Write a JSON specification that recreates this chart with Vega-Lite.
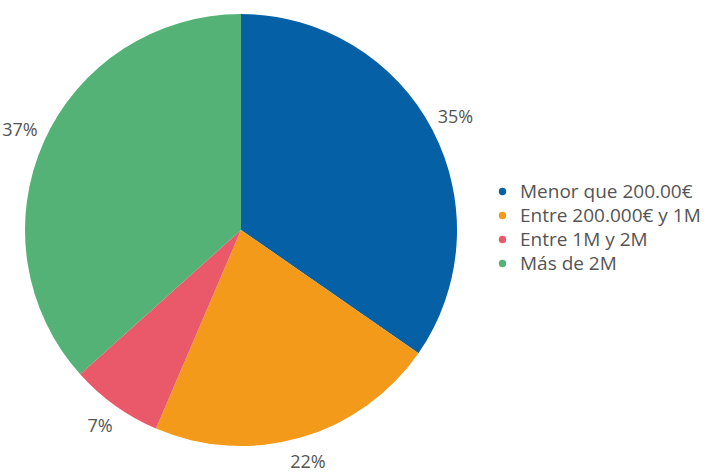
{
  "$schema": "https://vega.github.io/schema/vega-lite/v6.json",
  "width": 482,
  "height": 460,
  "padding": {"left": 0, "top": 0, "right": 230, "bottom": 13},
  "autosize": "none",
  "background": "white",
  "data": {"values": [
    {"cat": "Menor que 200.00€", "value": 35, "label": "35%", "ord": 1},
    {"cat": "Entre 200.000€ y 1M", "value": 22, "label": "22%", "ord": 2},
    {"cat": "Entre 1M y 2M", "value": 7, "label": "7%", "ord": 3},
    {"cat": "Más de 2M", "value": 37, "label": "37%", "ord": 4}
  ]},
  "encoding": {
    "theta": {"field": "value", "type": "quantitative", "stack": true},
    "order": {"field": "ord", "type": "quantitative"},
    "color": {
      "field": "cat", "type": "nominal",
      "scale": {
        "domain": ["Menor que 200.00€", "Entre 200.000€ y 1M", "Entre 1M y 2M", "Más de 2M"],
        "range": ["#0560A6", "#F39A1A", "#E9596A", "#54B276"]
      },
      "legend": {
        "title": null,
        "orient": "none",
        "legendX": 493,
        "legendY": 182,
        "symbolType": "circle",
        "symbolSize": 55,
        "labelFontSize": 19,
        "labelFont": "Open Sans",
        "labelColor": "#555555",
        "labelLimit": 400,
        "rowPadding": 4,
        "labelOffset": 8
      }
    }
  },
  "layer": [
    {"mark": {"type": "arc", "outerRadius": 216}},
    {
      "mark": {"type": "text", "radius": 242, "fontSize": 18, "font": "Open Sans", "color": "#555555"},
      "encoding": {"text": {"field": "label"}, "color": {"value": "#555555"}}
    }
  ]
}
